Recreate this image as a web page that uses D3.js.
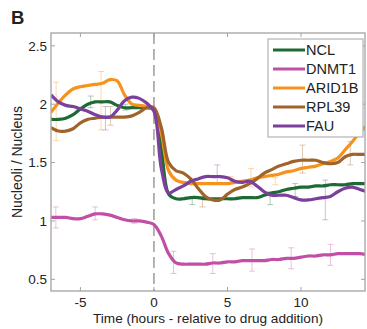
<!DOCTYPE html>
<html>
<head>
<meta charset="utf-8">
<script src="https://cdn.jsdelivr.net/npm/d3@7"></script>
<style>
  body { margin: 0; background: #fff; }
  text { font-family: "Liberation Sans", Arial, sans-serif; fill: #222; }
</style>
</head>
<body>
<div id="chart"></div>
<script>
// time points (hours relative to drug addition)
const times = [-7, -6.5, -6, -5.5, -5, -4.5, -4, -3.5, -3, -2.5, -2, -1.5, -1, -0.5, 0,
  0.5, 1, 1.5, 2, 2.5, 3, 3.5, 4, 4.5, 5, 5.5, 6, 6.5, 7, 7.5, 8, 8.5, 9, 9.5, 10,
  10.5, 11, 11.5, 12, 12.5, 13, 13.5, 14, 14.5];

const ncl = [1.87, 1.87, 1.88, 1.91, 1.96, 2.0, 2.02, 2.02, 2.02, 1.99, 1.97, 1.97, 1.97, 1.97, 1.95,
  1.62, 1.23, 1.19, 1.19, 1.2, 1.2, 1.19, 1.19, 1.19, 1.19, 1.19, 1.2, 1.2, 1.2, 1.22, 1.24,
  1.25, 1.27, 1.28, 1.29, 1.29, 1.3, 1.3, 1.31, 1.31, 1.31, 1.32, 1.32, 1.32];
const dnmt1 = [1.03, 1.03, 1.03, 1.02, 1.02, 1.04, 1.06, 1.06, 1.05, 1.03, 1.01, 1.0, 1.0, 0.99, 0.97,
  0.87, 0.72, 0.64, 0.63, 0.63, 0.63, 0.63, 0.64, 0.64, 0.65, 0.65, 0.66, 0.66, 0.66, 0.66, 0.67,
  0.67, 0.68, 0.68, 0.69, 0.7, 0.7, 0.71, 0.71, 0.72, 0.72, 0.72, 0.72, 0.71];
const arid1b = [1.93, 2.01, 2.08, 2.13, 2.15, 2.16, 2.17, 2.18, 2.21, 2.2, 2.08, 2.0, 1.99, 1.98, 1.95,
  1.75, 1.43, 1.35, 1.33, 1.32, 1.32, 1.32, 1.32, 1.32, 1.32, 1.33, 1.34, 1.35, 1.37, 1.38, 1.39,
  1.4, 1.42, 1.43, 1.45, 1.46, 1.47, 1.49, 1.51, 1.54, 1.61, 1.68, 1.76, 1.82];
const rpl39 = [1.8, 1.77, 1.77, 1.79, 1.84, 1.87, 1.88, 1.89, 1.89, 1.89, 1.89, 1.9, 1.93, 1.97, 1.97,
  1.8, 1.5, 1.43, 1.41, 1.36, 1.28, 1.21, 1.18, 1.18, 1.23, 1.27, 1.29, 1.32, 1.36, 1.41, 1.44,
  1.47, 1.49, 1.51, 1.52, 1.52, 1.52, 1.5, 1.49, 1.5, 1.55, 1.57, 1.57, 1.57];
const fau = [2.08, 2.02, 1.99, 1.98, 1.96, 1.94, 1.91, 1.89, 1.89, 1.95, 2.03, 2.06, 2.05, 2.01, 1.94,
  1.45, 1.24, 1.27, 1.3, 1.34, 1.36, 1.38, 1.38, 1.38, 1.37, 1.34, 1.33, 1.34, 1.3, 1.25, 1.22,
  1.22, 1.22, 1.2, 1.18, 1.18, 1.19, 1.2, 1.21, 1.25, 1.28, 1.29, 1.27, 1.25];

// error bars: [time, low, high]
const errNcl = [[-4.3, 1.97, 2.07], [-1.95, 1.95, 2.0], [2.6, 1.14, 1.21], [7.9, 1.14, 1.25], [9.6, 1.21, 1.32]];
const errDnmt1 = [[-6.67, 0.94, 1.12], [-4.0, 1.01, 1.12], [-1.33, 0.98, 1.02], [1.33, 0.55, 0.74],
  [4.0, 0.55, 0.72], [6.67, 0.57, 0.76], [9.33, 0.59, 0.77], [12.0, 0.62, 0.8]];
const errArid1b = [[-6.65, 1.69, 2.19], [-3.6, 1.78, 2.28], [5.2, 1.33, 1.38], [6.6, 1.29, 1.45], [8.25, 1.31, 1.37]];
const errRpl39 = [[-2.95, 1.82, 1.98], [3.3, 1.12, 1.21], [10.1, 1.41, 1.65], [13.35, 1.48, 1.68]];
const errFau = [[-3.3, 1.78, 1.98], [4.3, 1.32, 1.48], [11.65, 1.01, 1.35]];

const names = ["NCL", "DNMT1", "ARID1B", "RPL39", "FAU"];
const colors = ["#1d6a35", "#c24fa6", "#f6921e", "#a0642b", "#7b3f9c"];
const series = [ncl, dnmt1, arid1b, rpl39, fau];
const errs = [errNcl, errDnmt1, errArid1b, errRpl39, errFau];

const xTicks = [-5, 0, 5, 10];
const yTicks = [0.5, 1, 1.5, 2, 2.5];

const width = 367, height = 329;
const m = { left: 51, right: 365, top: 33, bottom: 291 };

const x = d3.scaleLinear().domain([-7, 14.35]).range([m.left, m.right]);
const y = d3.scaleLinear().domain([0.4, 2.61]).range([m.bottom, m.top]);

const svg = d3.select("#chart").append("svg")
  .attr("width", width)
  .attr("height", height);

svg.append("defs").append("clipPath").attr("id", "clip")
  .append("rect")
  .attr("x", m.left).attr("y", m.top)
  .attr("width", m.right - m.left).attr("height", m.bottom - m.top);

// panel letter
svg.append("text")
  .attr("x", 11).attr("y", 23.5)
  .style("font-size", "18.5px").style("font-weight", "bold")
  .text("B");

const plot = svg.append("g").attr("clip-path", "url(#clip)");

// dashed line at drug addition
plot.append("line")
  .attr("x1", x(0)).attr("x2", x(0))
  .attr("y1", m.top).attr("y2", m.bottom)
  .attr("stroke", "#8a8a8a")
  .attr("stroke-width", 1.3)
  .attr("stroke-dasharray", "11,5");

// error bars
errs.forEach((list, i) => {
  const g = plot.append("g")
    .attr("stroke", colors[i])
    .attr("stroke-opacity", 0.35)
    .attr("stroke-width", 1);
  list.forEach(e => {
    g.append("line").attr("x1", x(e[0])).attr("x2", x(e[0])).attr("y1", y(e[1])).attr("y2", y(e[2]));
    g.append("line").attr("x1", x(e[0]) - 3).attr("x2", x(e[0]) + 3).attr("y1", y(e[1])).attr("y2", y(e[1]));
    g.append("line").attr("x1", x(e[0]) - 3).attr("x2", x(e[0]) + 3).attr("y1", y(e[2])).attr("y2", y(e[2]));
  });
});

const line = d3.line()
  .x((d, i) => x(times[i]))
  .y(d => y(d))
  .curve(d3.curveCatmullRom.alpha(0.5));

series.forEach((s, i) => {
  plot.append("path")
    .datum(s)
    .attr("fill", "none")
    .attr("stroke", colors[i])
    .attr("stroke-width", 3.2)
    .attr("stroke-linejoin", "round")
    .attr("d", line);
});

// box with inward ticks
const axisColor = "#a3a3a3";
svg.append("rect")
  .attr("x", m.left).attr("y", m.top)
  .attr("width", m.right - m.left).attr("height", m.bottom - m.top)
  .attr("fill", "none").attr("stroke", axisColor).attr("stroke-width", 1.3);

xTicks.forEach(t => {
  svg.append("line").attr("x1", x(t)).attr("x2", x(t)).attr("y1", m.bottom).attr("y2", m.bottom - 4)
    .attr("stroke", axisColor);
  svg.append("line").attr("x1", x(t)).attr("x2", x(t)).attr("y1", m.top).attr("y2", m.top + 4)
    .attr("stroke", axisColor);
  svg.append("text")
    .attr("x", x(t)).attr("y", 307)
    .attr("text-anchor", "middle")
    .style("font-size", "13.5px")
    .text(t < 0 ? "-" + Math.abs(t) : t);
});

yTicks.forEach(t => {
  svg.append("line").attr("x1", m.left).attr("x2", m.left + 4).attr("y1", y(t)).attr("y2", y(t))
    .attr("stroke", axisColor);
  svg.append("line").attr("x1", m.right).attr("x2", m.right - 4).attr("y1", y(t)).attr("y2", y(t))
    .attr("stroke", axisColor);
  svg.append("text")
    .attr("x", 47).attr("y", y(t) + 4.8)
    .attr("text-anchor", "end")
    .style("font-size", "13.5px")
    .text(t);
});

// axis titles
svg.append("text")
  .attr("x", (m.left + m.right) / 2).attr("y", 323)
  .attr("text-anchor", "middle")
  .style("font-size", "13.6px")
  .text("Time (hours - relative to drug addition)");

svg.append("text")
  .attr("transform", `translate(22,${(m.top + m.bottom) / 2}) rotate(-90)`)
  .attr("text-anchor", "middle")
  .style("font-size", "14px")
  .text("Nucleoli / Nucleus");

// legend
const legend = svg.append("g");
legend.append("rect")
  .attr("x", 268).attr("y", 39)
  .attr("width", 95).attr("height", 98)
  .attr("fill", "#fff").attr("stroke", axisColor).attr("stroke-width", 1);

names.forEach((n, i) => {
  const ly = 50 + i * 19;
  legend.append("line")
    .attr("x1", 273).attr("x2", 305)
    .attr("y1", ly).attr("y2", ly)
    .attr("stroke", colors[i]).attr("stroke-width", 3);
  legend.append("text")
    .attr("x", 306).attr("y", ly + 5.3)
    .style("font-size", "14.5px")
    .text(n);
});
</script>
</body>
</html>
